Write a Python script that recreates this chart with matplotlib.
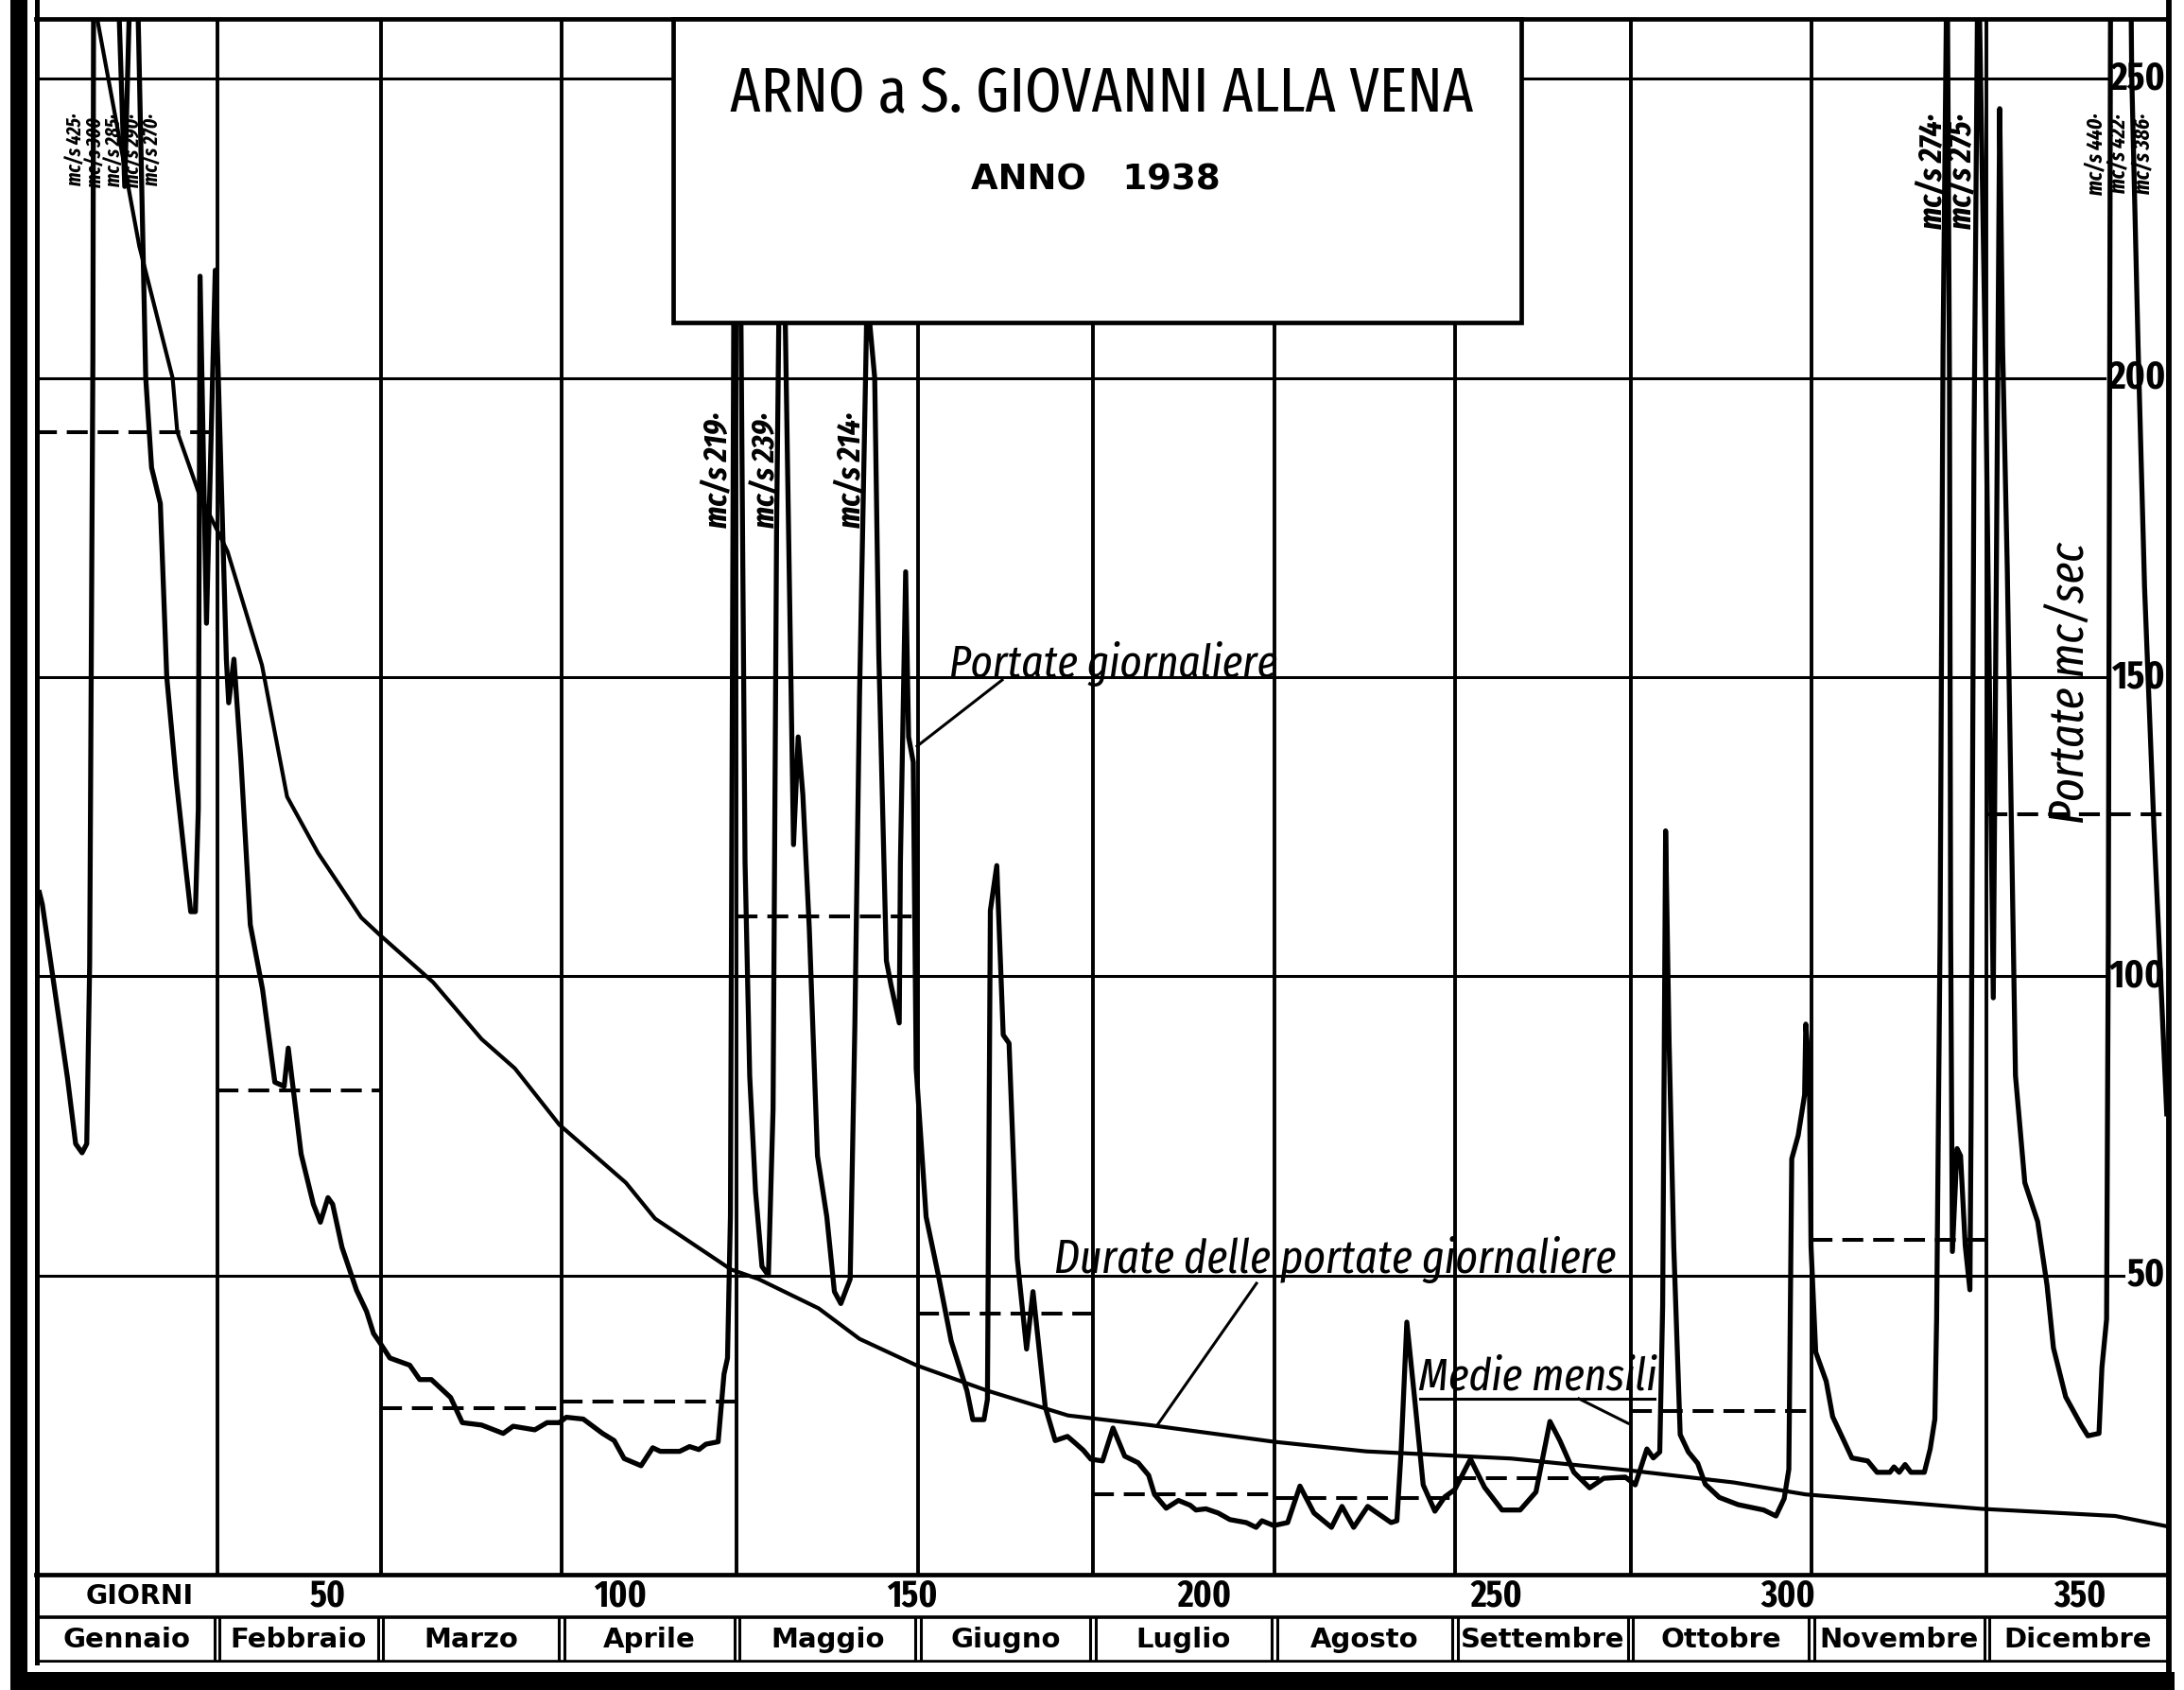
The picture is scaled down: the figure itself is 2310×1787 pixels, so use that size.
import matplotlib.pyplot as plt
from matplotlib import font_manager as fm
from matplotlib.patches import Rectangle
from matplotlib.lines import Line2D

# Arno a S. Giovanni alla Vena, 1938
months = ['Gennaio', 'Febbraio', 'Marzo', 'Aprile', 'Maggio', 'Giugno',
          'Luglio', 'Agosto', 'Settembre', 'Ottobre', 'Novembre', 'Dicembre']
month_start = [0, 31, 59, 90, 120, 151, 181, 212, 243, 273, 304, 334, 365]
monthly_mean = [191, 81, 27.8, 29, 110, 43.7, 13.4, 12.8, 16.1, 27.4, 55.9, 127]

# portate giornaliere (day of year, mc/s)
daily_day = [0.6, 1.1, 2.8, 5.4, 6.8, 7.9, 8.7, 9.2, 9.75, 10.2, 11.3, 12.3, 13.3,
             14.2, 15.2, 16.0, 16.8, 17.6, 18.8, 19.8, 21.3, 22.4, 24.0, 25.7, 26.5,
             27.3, 27.8, 28.1, 29.2, 30.7, 32.6, 33.0, 33.9, 35.1, 36.7, 38.8, 40.9,
             42.5, 43.2, 44.2, 45.4, 47.5, 48.7, 50.0, 50.8, 52.4, 54.9, 56.6, 57.8,
             59.0, 60.6, 64.0, 65.7, 67.7, 71.0, 73.0, 76.3, 80.0, 81.7, 85.4, 87.5,
             89.6, 90.8, 93.7, 97.0, 99.0, 100.7, 103.6, 105.6, 106.9, 110.2, 111.9,
             113.5, 114.7, 116.8, 117.8, 118.4, 118.9, 119.5, 120.7, 121.4, 122.2,
             123.2, 124.3, 125.4, 126.2, 126.8, 127.5, 128.2, 129.7, 130.5, 131.3,
             132.4, 133.8, 135.4, 136.7, 137.8, 139.4, 140.2, 141.0, 142.3, 143.6,
             144.3, 145.6, 146.4, 147.8, 148.0, 148.9, 149.4, 150.2, 150.7, 152.4,
             154.5, 156.7, 159.4, 160.4, 162.3, 162.9, 163.4, 164.5, 165.6, 166.6,
             168.0, 169.6, 170.7, 172.8, 174.5, 176.6, 177.8, 179.3, 180.6, 182.6,
             184.4, 186.4, 188.7, 190.5, 191.5, 193.5, 195.6, 197.6, 198.6, 200.3,
             202.4, 204.4, 207.2, 208.9, 209.9, 211.9, 214.3, 216.4, 218.8, 221.8,
             223.6, 225.6, 228.0, 232.0, 233.0, 233.7, 234.7, 236.1, 237.5, 239.5,
             241.2, 242.9, 245.6, 248.0, 251.0, 254.1, 256.8, 259.2, 260.9, 263.3,
             266.0, 268.4, 272.1, 273.8, 275.8, 276.9, 278.0, 278.5, 279.0, 279.6,
             280.4, 281.5, 282.9, 284.5, 285.8, 288.2, 291.4, 295.8, 297.9, 299.3,
             300.1, 300.6, 301.7, 302.8, 303.0, 303.6, 303.9, 304.7, 306.5, 307.6,
             310.9, 313.6, 315.2, 317.4, 318.1, 319.0, 320.0, 321.0, 323.3, 324.3,
             325.1, 325.4, 326.0, 326.5, 327.2, 327.6, 327.8, 328.1, 328.9, 329.5,
             330.3, 331.1, 331.3, 331.8, 332.5, 333.8, 335.1, 336.2, 336.7, 337.5,
             338.9, 340.5, 342.7, 344.3, 345.4, 347.5, 350.2, 351.3, 353.2, 353.7,
             354.5, 354.8, 355.6, 356.6, 357.6, 358.8, 359.9, 361.0, 362.6, 364.8]
daily_q = [114, 112, 100.5, 83, 72, 70.5, 72, 102, 203, 425, 330, 300, 283,
           262, 232, 262, 290, 256, 200, 185, 179, 150, 133, 117.7, 110.8,
           110.8, 128, 217, 159, 218, 153, 145.7, 153, 136, 108.6, 97.8, 82.3,
           81.6, 88, 79.9, 70.3, 61.9, 58.9, 63, 61.9, 54.7, 47.5, 44, 40.3,
           38.6, 36.2, 35, 32.6, 32.6, 29.6, 25.4, 25, 23.6, 24.8, 24.2, 25.4,
           25.4, 26.3, 26, 23.6, 22.4, 19.4, 18.2, 21.2, 20.6, 20.6, 21.4,
           20.9, 21.8, 22.2, 33.5, 36.2, 60, 219, 210, 119.2, 83.3,
           64, 51.5, 50, 77.8, 174.5, 239, 215, 122, 140, 130.3,
           108, 70, 59.8, 47.3, 45.3, 49.4, 91.6, 146.8, 214, 200,
           153.8, 102.6, 98.5, 92.2, 119, 167.6, 140, 135.8, 84.6, 59.8,
           50, 39, 30.7, 25.9, 25.9, 29.3, 111, 118.5, 90.2, 88.8,
           52.8, 37.7, 47.3, 28, 22.4, 23.1, 22.1, 20.8, 19.3, 19,
           24.5, 19.8, 18.7, 16.6, 13.4, 11.1, 12.4, 11.6, 10.8, 11,
           10.3, 9.2, 8.7, 7.9, 9, 8.2, 8.7, 14.8, 10.3, 7.9,
           11.4, 7.9, 11.4, 8.7, 9, 20.3, 42.2, 28.8, 15, 10.6,
           13, 14.2, 19.3, 14.6, 10.8, 10.8, 13.8, 25.6, 22.4, 17.1,
           14.5, 16.1, 16.3, 15, 21, 19.5, 20.5, 45, 124.3, 89,
           54.8, 23.4, 20.5, 18.6, 15.1, 12.9, 11.7, 10.8, 9.8, 12.7,
           17.6, 69.5, 73.4, 80.2, 92, 84.2, 54.8, 37.2, 32.3, 26.4,
           19.5, 19, 17.1, 17.1, 18, 17.1, 18.4, 17.1, 17.1, 21,
           26, 42.7, 107.7, 205, 274, 200, 107.7, 54, 71.2, 70,
           55, 47.6, 75.3, 189, 275, 200, 96.4, 245, 205, 168,
           83.4, 65.5, 59, 48.4, 37.9, 29.7, 24.9, 23.2, 23.6, 34.6,
           42.7, 107.7, 440, 422, 386, 250.7, 205, 165, 125, 77]

# durate delle portate giornaliere (days, mc/s)
dur_day = [10.5, 17.7, 23.4, 24.2, 27.8, 32.8, 38.7, 43.0, 48.3, 55.7, 59.0, 68.0,
           76.3, 82.0, 89.6, 101.0, 106.0, 119.0, 123.7, 134.0, 141.0, 150.7,
           162.7, 176.7, 190.6, 212.0, 227.7, 252.6, 273.0, 290.7, 303.0, 333.0,
           356.0, 364.7]
dur_q = [260, 222, 200, 191, 181, 171, 152, 130, 120.6, 109.8, 106.8, 99,
         89.5, 84.6, 75.2, 65.5, 59.5, 51, 49.4, 44.5, 39.4, 35,
         30.8, 26.6, 25, 22.2, 20.6, 19.4, 17.4, 15.4, 13.4, 11,
         9.8, 8.1]

# values written beside the peaks that leave the drawing area
peak_day = [6.9, 10.3, 13.5, 16.7, 19.9, 116.8, 125.0, 139.6, 324.8, 329.8, 352.6, 356.4, 360.7]
peak_text = ['mc/s 425·', 'mc/s 300·', 'mc/s 285·', 'mc/s 290·', 'mc/s 270·',
             'mc/s 219·', 'mc/s 239·', 'mc/s 214·', 'mc/s 274·', 'mc/s 275·',
             'mc/s 440·', 'mc/s 422·', 'mc/s 386·']

day_ticks = [50, 100, 150, 200, 250, 300, 350]
q_ticks = [50, 100, 150, 200, 250]

W, H = 2310, 1787


def P(x, y):
    # pixel position on the sheet -> figure fraction
    return x / W, 1 - y / H


def narrow_font(style='normal', bold=False):
    # look for a condensed / narrow face among the installed fonts
    best, best_key = None, None
    for f in fm.fontManager.ttflist:
        n = f.fname.split('/')[-1].lower()
        if 'extracondensed' in n or 'extra-condensed' in n:
            rank = 0
        elif 'narrow' in n:
            rank = 1
        elif 'semicondensed' in n:
            rank = 3
        elif 'condensed' in n or 'cond' in n:
            rank = 2
        else:
            continue
        if any(k in n for k in ['light', 'thin', 'black', 'extrabold', 'medium', 'semibold']):
            continue
        if (f.style != 'normal') != (style != 'normal'):
            continue
        w = f.weight if isinstance(f.weight, int) else fm.weight_dict.get(f.weight, 400)
        if bold != (w >= 600):
            continue
        key = (rank, abs(w - (700 if bold else 400)))
        if best_key is None or key < best_key:
            best, best_key = f, key
    if best is not None:
        return fm.FontProperties(fname=best.fname)
    return fm.FontProperties(family='DejaVu Sans', style=style,
                             weight='bold' if bold else 'normal')


F_REG = narrow_font()
F_IT = narrow_font('italic')
F_BOLD = narrow_font(bold=True)
F_BIT = narrow_font('italic', bold=True)

fig = plt.figure(figsize=(W / 100, H / 100), dpi=100)
fig.patch.set_facecolor('white')
rend = fig.canvas.get_renderer()


def fit(t, length, thick=None):
    # scale a text so that its extent along the reading direction is `length` px
    bb = t.get_window_extent(rend)
    vert = t.get_rotation() % 180 == 90
    size = t.get_fontsize() * length / (bb.height if vert else bb.width)
    if thick is not None:
        other = (bb.width if vert else bb.height) * size / t.get_fontsize()
        if other > thick:
            size *= thick / other
    t.set_fontsize(size)
    return size


# main drawing area
ax = fig.add_axes([38 / W, 1 - 1665 / H, (2293 - 38) / W, (1665 - 20) / H])
ax.set_xlim(0, 365)
ax.set_ylim(0, 260)
ax.set_xticks([])
ax.set_yticks([])
for s in ['left', 'right']:
    ax.spines[s].set_visible(False)
for s in ['top', 'bottom']:
    ax.spines[s].set_linewidth(3.4)

for v in q_ticks:
    ax.axhline(v, color='k', lw=2.2, zorder=1)
for d in month_start[1:-1]:
    ax.axvline(d, color='k', lw=2.8, zorder=1)

for i in range(12):
    ax.hlines(monthly_mean[i], month_start[i], month_start[i + 1], color='k',
              lw=2.9, linestyle=(0, (5.5, 2.6)), zorder=2)

ax.plot(dur_day, dur_q, color='k', lw=3.0, zorder=3)
ax.plot(daily_day, daily_q, color='k', lw=3.8, zorder=3, solid_joinstyle='round')

# scale values printed inside the right edge
qt = [ax.text(364.6, v, str(v), ha='right', va='center', fontproperties=F_BOLD,
              fontsize=28, zorder=2.5,
              bbox=dict(facecolor='white', edgecolor='none', pad=1)) for v in q_ticks]
s = fit(qt[-1], 58, thick=46)
for t in qt:
    t.set_fontsize(s)

# peak values, written vertically
for d, txt in zip(peak_day, peak_text):
    top = 436 if 100 < d < 200 else 120
    t = fig.text(P(38 + d * 6.18, 0)[0], P(0, top)[1], txt, rotation=90,
                 ha='center', va='top', fontproperties=F_BIT, fontsize=16, zorder=6)
    if d < 30:
        fit(t, 122, thick=20)
    elif d > 350:
        fit(t, 122, thick=22)
    else:
        fit(t, 122, thick=40)

# title box
fig.add_artist(Rectangle(P(712, 341), (1609 - 712) / W, (341 - 20) / H,
                         transform=fig.transFigure, facecolor='white',
                         edgecolor='k', lw=3.4, zorder=5))
t = fig.text(*P(1165, 101), 'ARNO a S. GIOVANNI ALLA VENA', ha='center', va='center',
             fontproperties=F_REG, fontsize=50, zorder=6)
fit(t, 786, thick=66)
t = fig.text(*P(1159, 190), 'ANNO   1938', ha='center', va='center',
             family='DejaVu Sans', weight='bold', fontsize=28, zorder=6)
fit(t, 264)

# captions with leaders
t = fig.text(*P(1004, 716), 'Portate giornaliere', ha='left', va='baseline',
             fontproperties=F_IT, fontsize=37, zorder=6)
fit(t, 347)
fig.add_artist(Line2D(*zip(P(1060, 719), P(970, 789)), transform=fig.transFigure,
                      color='k', lw=2.2))
t = fig.text(*P(1115, 1346), 'Durate delle portate giornaliere', ha='left',
             va='baseline', fontproperties=F_IT, fontsize=37, zorder=6)
fit(t, 594)
fig.add_artist(Line2D(*zip(P(1329, 1357), P(1224, 1507)), transform=fig.transFigure,
                      color='k', lw=2.2))
t = fig.text(*P(1500, 1470), 'Medie mensili', ha='left', va='baseline',
             fontproperties=F_IT, fontsize=37, zorder=6)
fit(t, 253)
fig.add_artist(Line2D(*zip(P(1502, 1479), P(1750, 1479)), transform=fig.transFigure,
                      color='k', lw=2.2))
fig.add_artist(Line2D(*zip(P(1670, 1479), P(1722, 1505)), transform=fig.transFigure,
                      color='k', lw=2.2))
t = fig.text(*P(2190, 722), 'Portate mc/sec', rotation=90, ha='center', va='center',
             fontproperties=F_IT, fontsize=39, zorder=6)
fit(t, 298)

# table under the chart
axt = fig.add_axes([38 / W, 1 - 1758 / H, (2293 - 38) / W, (1758 - 1665) / H])
axt.set_xlim(0, 365)
axt.set_ylim(93, 0)
axt.axis('off')
axt.axhline(44.5, color='k', lw=2.6)
axt.axhline(92, color='k', lw=2.6)
for d in month_start[1:-1]:
    axt.vlines([d - 0.45, d + 0.45], 44.5, 92, color='k', lw=2.2)
for i, m in enumerate(months):
    axt.text((month_start[i] + month_start[i + 1]) / 2, 69, m, ha='center',
             va='center', fontsize=21, weight='bold', family='DejaVu Sans')
t = axt.text(17.8, 23, 'GIORNI', ha='center', va='center', fontsize=17,
             weight='bold', family='DejaVu Sans')
fit(t, 114)
dt = [axt.text(d, 23, str(d), ha='center', va='center', fontproperties=F_BOLD,
               fontsize=27) for d in day_ticks]
s = fit(dt[1], 56, thick=50)
for t in dt:
    t.set_fontsize(s)

# frame of the sheet
fig.add_artist(Rectangle(P(11, 1787), 18 / W, 1, transform=fig.transFigure,
                         facecolor='k', edgecolor='none', zorder=7))
fig.add_artist(Rectangle(P(11, 1787), (2300 - 11) / W, 19 / H,
                         transform=fig.transFigure, facecolor='k',
                         edgecolor='none', zorder=7))
fig.add_artist(Line2D(*zip(P(38.5, 0), P(38.5, 1758)), transform=fig.transFigure,
                      color='k', lw=3.6, zorder=7))
fig.add_artist(Line2D(*zip(P(2294, 0), P(2294, 1770)), transform=fig.transFigure,
                      color='k', lw=4.2, zorder=7))

fig.savefig('out.png', dpi=100)
